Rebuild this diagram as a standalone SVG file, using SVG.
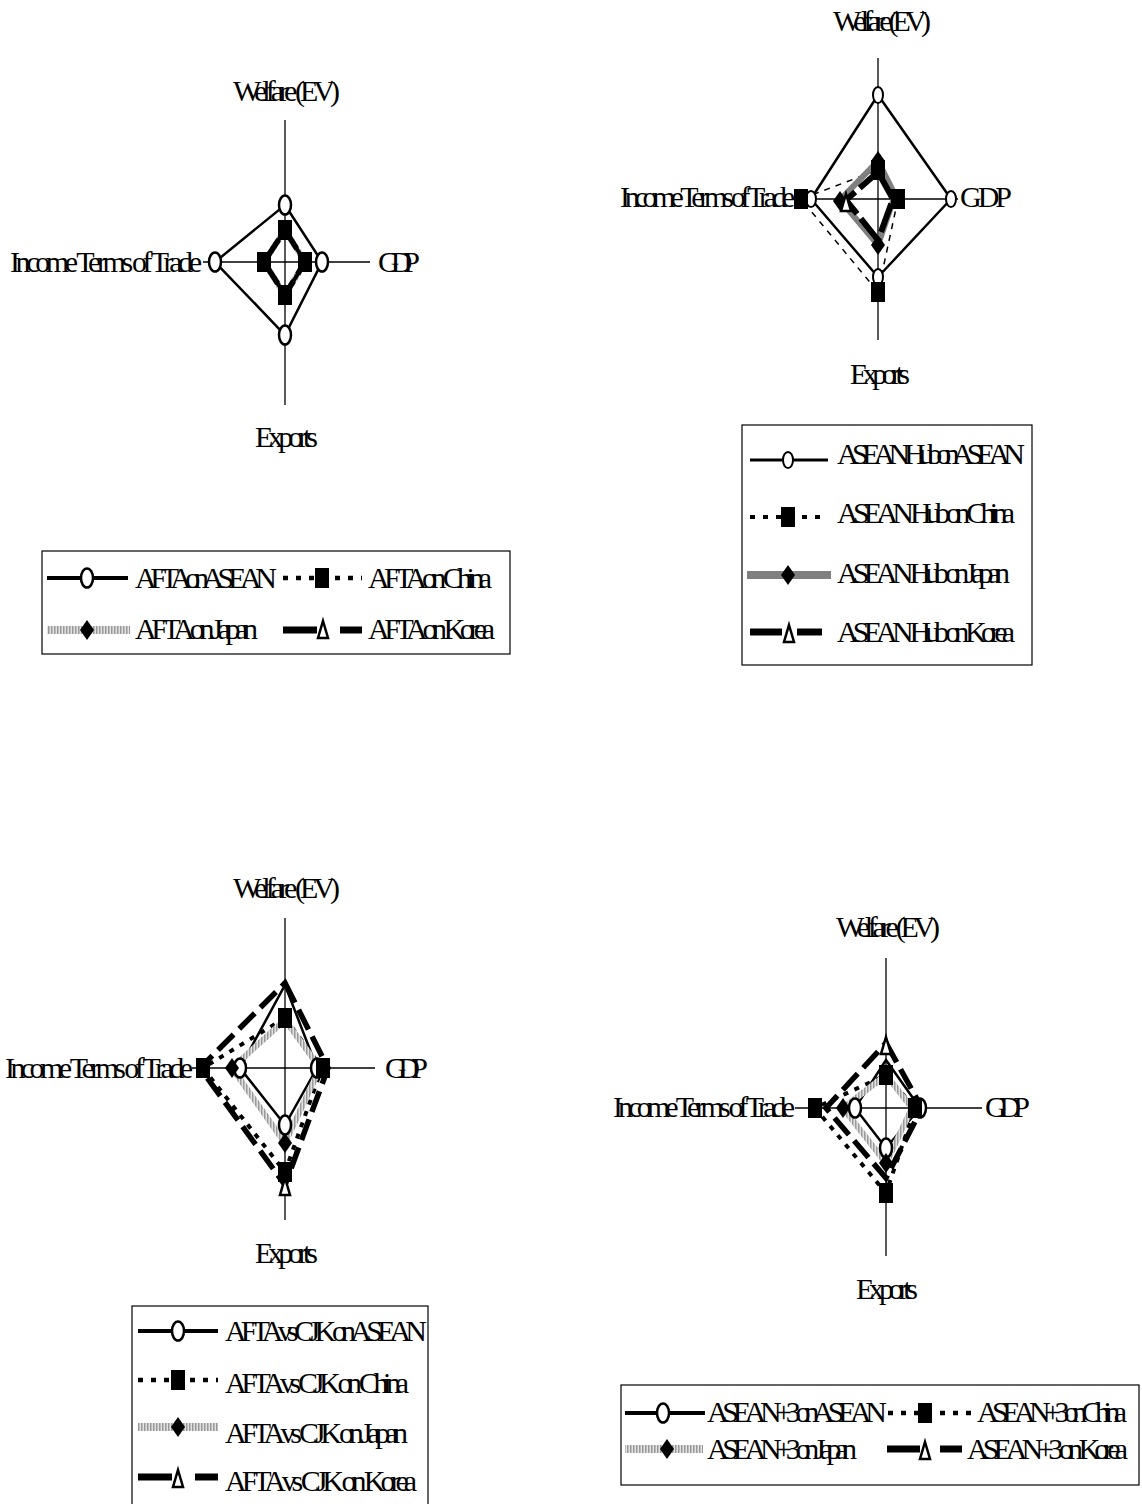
<svg xmlns="http://www.w3.org/2000/svg" xmlns:xlink="http://www.w3.org/1999/xlink" width="1142" height="1504" viewBox="0 0 1142 1504">
<defs>
<pattern id="hatch" patternUnits="userSpaceOnUse" width="3" height="3"><rect width="3" height="3" fill="#e2e2e2"/><rect width="1.5" height="3" fill="#999"/></pattern>
<ellipse id="mc" rx="6" ry="9.5" fill="#fff" stroke="#000" stroke-width="2.5"/>
<ellipse id="mc2" rx="5" ry="8" fill="#fff" stroke="#000" stroke-width="2"/>
<rect id="ms" x="-7" y="-10" width="14" height="20" fill="#000"/>
<path id="md" d="M0,-10L7,0L0,10L-7,0Z" fill="#000"/>
<path id="mt" d="M0,-9L5,8L-5,8Z" fill="#fff" stroke="#000" stroke-width="2.5"/>
</defs>
<style>
.ax{stroke:#000;stroke-width:1.3;fill:none}
.sA{stroke:#000;stroke-width:2.5;fill:none}
.sC{stroke:#000;stroke-width:4;stroke-dasharray:5 7;fill:none}
.sJ{stroke:url(#hatch);stroke-width:6;fill:none}
.sK{stroke:#000;stroke-width:5.5;stroke-dasharray:22 8;fill:none}
.sC2{stroke:#000;stroke-width:1.5;stroke-dasharray:6 6;fill:none}
.sJ2{stroke:#808080;stroke-width:6;fill:none}
.sK2{stroke:#000;stroke-width:6;stroke-dasharray:30 6;fill:none}
.lA{stroke:#000;stroke-width:4;fill:none}
.lA2{stroke:#000;stroke-width:3;fill:none}
.lC{stroke:#000;stroke-width:4.5;stroke-dasharray:5 8;fill:none}
.lJ{stroke:url(#hatch);stroke-width:8;fill:none}
.lJ2{stroke:#808080;stroke-width:8;fill:none}
.lK{stroke:#000;stroke-width:7;fill:none}
.box{fill:#fff;stroke:#000;stroke-width:1.2}
.t{font-family:"Liberation Serif","Times New Roman",serif;font-size:30px;fill:#000}
</style>

<!-- Chart 1: AFTA -->
<g id="chart1">
<g id="chart1-axes">
<line class="ax" x1="285" y1="120" x2="285" y2="405"/>
<line class="ax" x1="203" y1="262" x2="370" y2="262"/>
</g>
<text class="t" x="233" y="101" textLength="107">Welfare (EV)</text>
<text class="t" x="10" y="272" textLength="192">Income Terms of Trade</text>
<text class="t" x="378" y="272" textLength="42">GDP</text>
<text class="t" x="255" y="447" textLength="63">Exports</text>
<g id="chart1-series">
<polygon class="sA" points="285,205 322,262 285,335 215,262"/>
<polygon class="sJ" points="285,230 305,262 285,295 264,262"/>
<polygon class="sK" points="285,230 305,262 285,295 264,262"/>
<polygon class="sC" points="285,230 305,262 285,295 264,262" style="stroke-dasharray:none"/>
<use href="#mc" x="285" y="205"/><use href="#mc" x="322" y="262"/><use href="#mc" x="285" y="335"/><use href="#mc" x="215" y="262"/>
<use href="#ms" x="285" y="230"/><use href="#ms" x="305" y="262"/><use href="#ms" x="285" y="295"/><use href="#ms" x="264" y="262"/>
</g>
</g>

<g id="legend1">
<rect class="box" x="42" y="551" width="468" height="103"/>
<line class="lA" x1="47" y1="578" x2="128" y2="578"/><use href="#mc" x="87" y="578"/>
<text class="t" x="135" y="588" textLength="142">AFTA on ASEAN</text>
<line class="lC" x1="283" y1="578" x2="362" y2="578"/><use href="#ms" x="322" y="578"/>
<text class="t" x="368" y="588" textLength="124">AFTA on China</text>
<line class="lJ" x1="47" y1="630" x2="130" y2="630"/><use href="#md" x="87" y="630"/>
<text class="t" x="135" y="639" textLength="123">AFTA on Japan</text>
<line class="lK" x1="283" y1="630" x2="317" y2="630"/><line class="lK" x1="340" y1="630" x2="362" y2="630"/><use href="#mt" x="323" y="630"/>
<text class="t" x="368" y="639" textLength="127">AFTA on Korea</text>
</g>

<!-- Chart 2: ASEAN Hub -->
<g id="chart2">
<g id="chart2-axes">
<line class="ax" x1="878" y1="58" x2="878" y2="340"/>
<line class="ax" x1="795" y1="199" x2="958" y2="199"/>
</g>
<text class="t" x="833" y="31" textLength="98">Welfare (EV)</text>
<text class="t" x="620" y="207" textLength="175">Income Terms of Trade</text>
<text class="t" x="960" y="207" textLength="52">GDP</text>
<text class="t" x="850" y="384" textLength="60">Exports</text>
<g id="chart2-series">
<polygon class="sA" points="878,95 951,199 878,277 811,199"/>
<polygon class="sC2" points="878,170 898,199 878,292 801,199"/>
<polygon class="sJ2" points="878,161 895,195 878,245 840,200"/>
<polygon class="sK2" points="878,172 893,199 878,240 846,200"/>
<use href="#mc2" x="878" y="95"/><use href="#mc2" x="951" y="199"/><use href="#mc2" x="878" y="277"/><use href="#mc2" x="811" y="199"/>
<use href="#ms" x="878" y="170"/><use href="#ms" x="898" y="199"/><use href="#ms" x="878" y="292"/><use href="#ms" x="801" y="199"/>
<use href="#md" x="878" y="161"/><use href="#md" x="840" y="201"/><use href="#md" x="878" y="245"/>
<use href="#mt" x="846" y="203"/>
</g>
</g>

<g id="legend2">
<rect class="box" x="742" y="425" width="290" height="240"/>
<line class="lA2" x1="750" y1="460" x2="828" y2="460"/><use href="#mc2" x="788" y="460"/>
<text class="t" x="837" y="464" textLength="188">ASEAN Hub on ASEAN</text>
<line class="lC" x1="750" y1="517" x2="828" y2="517" style="stroke-width:4"/><use href="#ms" x="788" y="517"/>
<text class="t" x="837" y="523" textLength="178">ASEAN Hub on China</text>
<line class="lJ2" x1="747" y1="575" x2="831" y2="575"/><use href="#md" x="788" y="575"/>
<text class="t" x="837" y="583" textLength="173">ASEAN Hub on Japan</text>
<line class="lK" x1="750" y1="632" x2="782" y2="632"/><line class="lK" x1="797" y1="632" x2="822" y2="632"/><use href="#mt" x="789" y="634"/>
<text class="t" x="837" y="642" textLength="178">ASEAN Hub on Korea</text>
</g>

<!-- Chart 3: AFTA vs CJK -->
<g id="chart3">
<g id="chart3-axes">
<line class="ax" x1="285" y1="918" x2="285" y2="1220"/>
<line class="ax" x1="192" y1="1068" x2="375" y2="1068"/>
</g>
<text class="t" x="233" y="898" textLength="107">Welfare (EV)</text>
<text class="t" x="5" y="1078" textLength="188">Income Terms of Trade</text>
<text class="t" x="385" y="1078" textLength="43">GDP</text>
<text class="t" x="255" y="1263" textLength="63">Exports</text>
<g id="chart3-series">
<polygon class="sA" points="285,985 317,1068 285,1125 240,1068"/>
<polygon class="sC" points="285,1018 322,1068 285,1172 203,1068"/>
<polygon class="sJ" points="285,1020 320,1068 285,1143 232,1068"/>
<polygon class="sK" points="285,983 328,1068 285,1185 200,1068"/>
<use href="#mc" x="317" y="1068"/><use href="#mc" x="285" y="1125"/><use href="#mc" x="240" y="1068"/>
<use href="#ms" x="285" y="1018"/><use href="#ms" x="323" y="1068"/><use href="#ms" x="285" y="1172"/><use href="#ms" x="203" y="1068"/>
<use href="#md" x="285" y="1143"/><use href="#md" x="232" y="1068"/>
<use href="#mt" x="285" y="1187"/>
</g>
</g>

<g id="legend3">
<rect class="box" x="132" y="1306" width="296" height="204"/>
<line class="lA" x1="138" y1="1331" x2="218" y2="1331"/><use href="#mc" x="178" y="1331"/>
<text class="t" x="225" y="1341" textLength="202">AFTA vs CJK on ASEAN</text>
<line class="lC" x1="138" y1="1380" x2="218" y2="1380"/><use href="#ms" x="178" y="1380"/>
<text class="t" x="225" y="1393" textLength="184">AFTA vs CJK on China</text>
<line class="lJ" x1="138" y1="1427" x2="218" y2="1427"/><use href="#md" x="178" y="1427"/>
<text class="t" x="225" y="1443" textLength="183">AFTA vs CJK on Japan</text>
<line class="lK" x1="138" y1="1477" x2="172" y2="1477"/><line class="lK" x1="195" y1="1477" x2="218" y2="1477"/><use href="#mt" x="178" y="1479"/>
<text class="t" x="225" y="1491" textLength="192">AFTA vs CJK on Korea</text>
</g>

<!-- Chart 4: ASEAN+3 -->
<g id="chart4">
<g id="chart4-axes">
<line class="ax" x1="886" y1="958" x2="886" y2="1256"/>
<line class="ax" x1="795" y1="1108" x2="982" y2="1108"/>
</g>
<text class="t" x="836" y="937" textLength="104">Welfare (EV)</text>
<text class="t" x="613" y="1117" textLength="182">Income Terms of Trade</text>
<text class="t" x="985" y="1117" textLength="45">GDP</text>
<text class="t" x="856" y="1299" textLength="62">Exports</text>
<g id="chart4-series">
<polygon class="sA" points="886,1060 920,1108 886,1148 855,1108"/>
<polygon class="sC" points="886,1075 915,1108 886,1193 815,1108"/>
<polygon class="sJ" points="886,1075 912,1108 886,1163 843,1108"/>
<polygon class="sK" points="886,1043 922,1108 886,1178 826,1108"/>
<use href="#mc" x="920" y="1108"/><use href="#mc" x="886" y="1148"/><use href="#mc" x="855" y="1108"/>
<use href="#ms" x="886" y="1075"/><use href="#ms" x="915" y="1108"/><use href="#ms" x="886" y="1193"/><use href="#ms" x="815" y="1108"/>
<use href="#md" x="886" y="1163"/><use href="#md" x="843" y="1108"/>
<use href="#mt" x="886" y="1046"/>
</g>
</g>

<g id="legend4">
<rect class="box" x="621" y="1385" width="518" height="100"/>
<line class="lA" x1="625" y1="1413" x2="705" y2="1413"/><use href="#mc" x="663" y="1413"/>
<text class="t" x="707" y="1422" textLength="180">ASEAN+3 on ASEAN</text>
<line class="lC" x1="888" y1="1413" x2="973" y2="1413"/><use href="#ms" x="925" y="1413"/>
<text class="t" x="977" y="1422" textLength="150">ASEAN+3 on China</text>
<line class="lJ" x1="625" y1="1449" x2="703" y2="1449"/><use href="#md" x="667" y="1449"/>
<text class="t" x="707" y="1459" textLength="150">ASEAN+3 on Japan</text>
<line class="lK" x1="887" y1="1449" x2="920" y2="1449"/><line class="lK" x1="940" y1="1449" x2="962" y2="1449"/><use href="#mt" x="925" y="1451"/>
<text class="t" x="967" y="1459" textLength="161">ASEAN+3 on Korea</text>
</g>
</svg>
